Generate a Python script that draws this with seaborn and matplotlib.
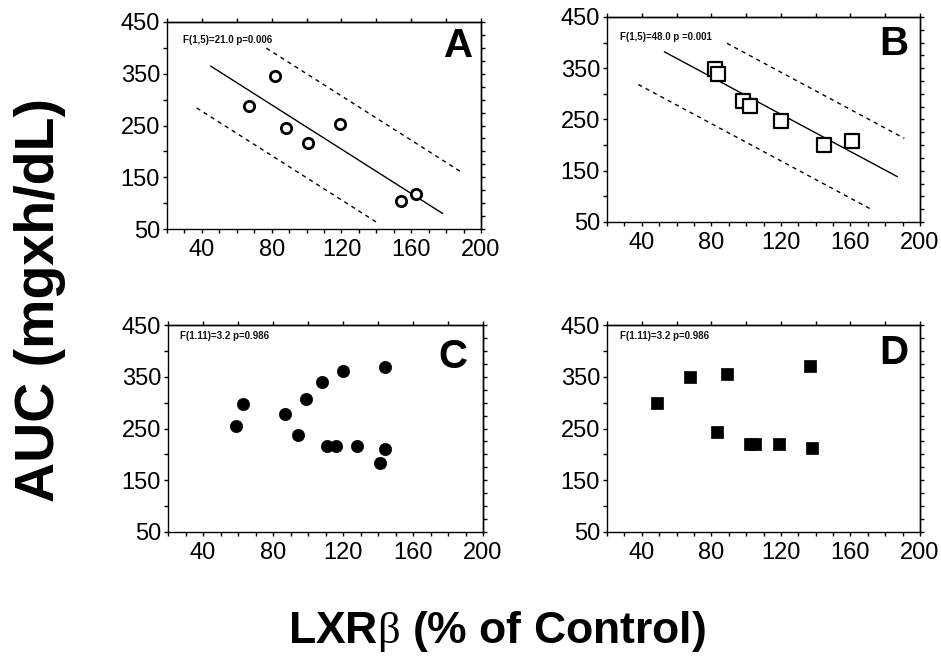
import numpy as np
import matplotlib
matplotlib.use("Agg")
import matplotlib.pyplot as plt
import seaborn as sns
from matplotlib.ticker import MultipleLocator

sns.set_theme(style="ticks")
plt.rcParams['font.family'] = ['Liberation Sans', 'DejaVu Sans']
plt.rcParams.update({
    'mathtext.fontset': 'custom',
    'mathtext.rm': 'Liberation Serif',
    'axes.edgecolor': 'black',
    'axes.linewidth': 1.0,
    'xtick.color': 'black',
    'ytick.color': 'black',
    'xtick.labelcolor': 'black',
    'ytick.labelcolor': 'black',
    'text.color': 'black',
    'axes.labelcolor': 'black',
})

# Panel data (LXRbeta % of control vs AUC)
a_x = [67, 82, 88, 101, 119, 154, 163]
a_y = [288, 346, 246, 216, 252, 105, 118]
b_x = [82, 84, 98, 102, 120, 145, 161]
b_y = [349, 338, 287, 277, 248, 201, 209]
c_x = [59, 63, 87, 94, 99, 108, 120, 111, 116, 128, 144, 144, 141]
c_y = [255, 298, 278, 237, 307, 339, 362, 217, 217, 217, 369, 211, 184]
d_x = [49, 68, 89, 83, 102, 105, 119, 137, 138]
d_y = [300, 350, 356, 244, 221, 221, 221, 371, 213]

stats_text = ["F(1,5)=21.0 p=0.006", "F(1,5)=48.0 p =0.001",
              "F(1.11)=3.2 p=0.986", "F(1.11)=3.2 p=0.986"]
panel_letters = ["A", "B", "C", "D"]

# regression line extents and interval offsets (upper, lower) for A and B
a_fit_range = [45, 178]
a_upper_range = [77, 189]
a_lower_range = [37, 140]
a_band = [103, 98]
b_fit_range = [53, 187]
b_upper_range = [89, 191]
b_lower_range = [38, 173]
b_band = [82, 91]

W, H = 941, 663


def px_rect(left, top, right, bottom):
    return [left / W, 1 - bottom / H, (right - left) / W, (bottom - top) / H]


fig = plt.figure(figsize=(W / 100, H / 100), dpi=100)

panels = [
    dict(rect=px_rect(167, 22, 481, 229), x=a_x, y=a_y, marker='o', s=55, fill='white', lw=2.0,
         fit=(a_fit_range, a_upper_range, a_lower_range, a_band),
         txt=(0.05, 0.913), let=(0.975, 0.885)),
    dict(rect=px_rect(607, 17, 920, 222), x=b_x, y=b_y, marker='s', s=90, fill='white', lw=1.6,
         fit=(b_fit_range, b_upper_range, b_lower_range, b_band),
         txt=(0.042, 0.90), let=(0.962, 0.87)),
    dict(rect=px_rect(168, 325, 483, 532), x=c_x, y=c_y, marker='o', s=78, fill='black', lw=0.5,
         fit=None, txt=(0.038, 0.947), let=(0.95, 0.845)),
    dict(rect=px_rect(607, 325, 920, 532), x=d_x, y=d_y, marker='s', s=72, fill='black', lw=0.5,
         fit=None, txt=(0.042, 0.947), let=(0.963, 0.865)),
]

for i, p in enumerate(panels):
    ax = fig.add_axes(p['rect'])
    sns.scatterplot(x=p['x'], y=p['y'], ax=ax, marker=p['marker'], s=p['s'],
                    color=p['fill'], edgecolor='black', linewidth=p['lw'], zorder=3)
    if p['fit'] is not None:
        fit_r, up_r, lo_r, band = p['fit']
        slope, icpt = np.polyfit(p['x'], p['y'], 1)
        xs = np.array(fit_r, dtype=float)
        ax.plot(xs, slope * xs + icpt, color='black', lw=1.0)
        xs = np.array(up_r, dtype=float)
        ax.plot(xs, slope * xs + icpt + band[0], color='black', lw=1.0, dashes=(3, 3))
        xs = np.array(lo_r, dtype=float)
        ax.plot(xs, slope * xs + icpt - band[1], color='black', lw=1.0, dashes=(3, 3))

    ax.set_xlim(20, 200)
    ax.set_ylim(50, 450)
    ax.xaxis.set_major_locator(MultipleLocator(40))
    ax.xaxis.set_minor_locator(MultipleLocator(10))
    ax.yaxis.set_major_locator(MultipleLocator(100))
    ax.yaxis.set_minor_locator(MultipleLocator(50))
    ax.set_xticks(np.arange(40, 201, 40))
    ax.set_yticks(np.arange(50, 451, 100))
    ax.tick_params(which='both', direction='out', length=3, width=1.0, labelsize=17, pad=2)
    ax.tick_params(axis='x', pad=4)
    for s in ['top', 'right']:
        ax.spines[s].set_visible(True)

    top = ax.secondary_xaxis('top')
    top.xaxis.set_major_locator(MultipleLocator(20))
    top.tick_params(direction='out', length=3, width=1.0, labeltop=False)
    right = ax.secondary_yaxis('right')
    right.yaxis.set_major_locator(MultipleLocator(25))
    right.tick_params(direction='out', length=3, width=1.0, labelright=False)

    ax.text(p['txt'][0], p['txt'][1], stats_text[i], transform=ax.transAxes,
            fontsize=7, fontweight='bold', ha='left', va='center', color='#111111')
    ax.text(p['let'][0], p['let'][1], panel_letters[i], transform=ax.transAxes,
            fontsize=29, fontweight='bold', ha='right', va='center', color='black')

fig.text(0.043, 0.548, "AUC (mgxh/dL)", rotation=90, fontsize=40, fontweight='bold',
         ha='center', va='center')
fig.text(0.528, 0.047, r"LXR$\mathrm{\beta}$ (% of Control)", fontsize=32, fontweight='bold',
         ha='center', va='center')

fig.savefig("out.png", dpi=100)
